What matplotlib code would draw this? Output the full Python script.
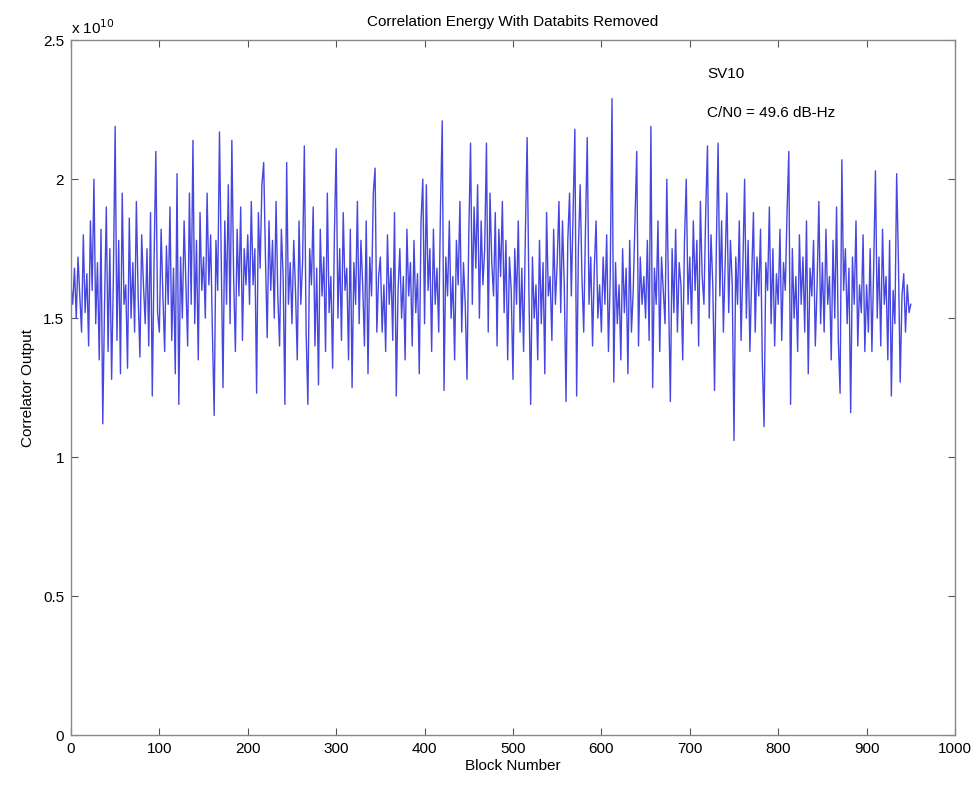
import matplotlib
matplotlib.use('Agg')
import matplotlib.pyplot as plt
import numpy as np

plt.rcParams['font.family'] = ['Liberation Sans', 'DejaVu Sans']

# correlator output in units of 1e10, one value every 2 blocks
energy = [
    1.62, 1.55, 1.68, 1.50, 1.72, 1.58, 1.45, 1.80, 1.52, 1.66, 1.40, 1.85, 1.60, 2.00, 1.48, 1.70, 1.35, 1.82, 1.12, 1.55, 1.90, 1.38, 1.75, 1.28, 1.65,
    2.19, 1.42, 1.78, 1.30, 1.95, 1.55, 1.62, 1.32, 1.86, 1.50, 1.70, 1.45, 1.92, 1.58, 1.36, 1.80, 1.62, 1.48, 1.75, 1.40, 1.88, 1.22, 1.70, 2.10, 1.52,
    1.45, 1.82, 1.58, 1.38, 1.76, 1.55, 1.90, 1.42, 1.68, 1.30, 2.02, 1.19, 1.72, 1.50, 1.85, 1.62, 1.40, 1.95, 1.55, 2.14, 1.48, 1.78, 1.35, 1.88, 1.60,
    1.72, 1.50, 1.95, 1.62, 1.80, 1.45, 1.15, 1.78, 1.60, 2.17, 1.70, 1.25, 1.85, 1.55, 1.98, 1.48, 2.14, 1.65, 1.38, 1.82, 1.58, 1.90, 1.42, 1.75, 1.62,
    1.80, 1.55, 1.92, 1.62, 1.75, 1.23, 1.88, 1.68, 1.98, 2.06, 1.72, 1.43, 1.85, 1.60, 1.78, 1.50, 1.92, 1.58, 1.40, 1.82, 1.65, 1.19, 2.06, 1.55, 1.70,
    1.48, 1.78, 1.60, 1.35, 1.85, 1.55, 1.70, 2.12, 1.45, 1.19, 1.75, 1.62, 1.90, 1.40, 1.68, 1.26, 1.82, 1.58, 1.72, 1.38, 1.95, 1.52, 1.65, 1.32, 1.80,
    2.11, 1.50, 1.75, 1.42, 1.88, 1.60, 1.68, 1.35, 1.82, 1.25, 1.70, 1.55, 1.92, 1.48, 1.78, 1.62, 1.40, 1.85, 1.30, 1.72, 1.58, 1.95, 2.04, 1.45, 1.65,
    1.72, 1.45, 1.62, 1.38, 1.80, 1.55, 1.68, 1.42, 1.88, 1.22, 1.60, 1.75, 1.50, 1.65, 1.35, 1.82, 1.58, 1.70, 1.40, 1.78, 1.52, 1.66, 1.30, 1.85, 2.00,
    1.48, 1.98, 1.60, 1.75, 1.38, 1.82, 1.55, 1.68, 1.45, 1.90, 2.21, 1.24, 1.72, 1.58, 1.85, 1.50, 1.65, 1.35, 1.78, 1.62, 1.92, 1.45, 1.70, 1.55, 1.28,
    1.80, 2.13, 1.55, 1.90, 1.68, 1.98, 1.50, 1.85, 1.62, 1.75, 2.13, 1.45, 1.95, 1.70, 1.58, 1.88, 1.40, 1.82, 1.65, 1.92, 1.52, 1.78, 1.35, 1.72, 1.60,
    1.28, 1.75, 1.55, 1.85, 1.45, 1.68, 1.38, 1.80, 2.15, 1.60, 1.19, 1.72, 1.50, 1.62, 1.35, 1.78, 1.48, 1.70, 1.30, 1.88, 1.58, 1.65, 1.42, 1.82, 1.55,
    1.70, 1.92, 1.52, 1.85, 1.62, 1.20, 1.78, 1.95, 1.58, 1.88, 2.18, 1.22, 1.75, 1.98, 1.65, 1.45, 1.82, 2.15, 1.55, 1.72, 1.40, 1.68, 1.85, 1.50, 1.62,
    1.45, 1.72, 1.55, 1.80, 1.38, 1.65, 2.29, 1.27, 1.70, 1.48, 1.62, 1.35, 1.75, 1.52, 1.68, 1.30, 1.78, 1.45, 1.60, 1.85, 2.10, 1.40, 1.72, 1.55, 1.65,
    1.50, 1.78, 1.42, 2.19, 1.25, 1.68, 1.55, 1.85, 1.38, 1.72, 1.60, 1.48, 2.00, 1.58, 1.20, 1.75, 1.52, 1.82, 1.45, 1.70, 1.62, 1.35, 1.78, 2.00, 1.55,
    1.72, 1.48, 1.85, 1.60, 1.78, 1.40, 1.92, 1.65, 1.55, 1.88, 2.12, 1.50, 1.80, 1.62, 1.24, 1.75, 2.13, 1.58, 1.85, 1.45, 1.70, 1.95, 1.52, 1.78, 1.62,
    1.06, 1.72, 1.55, 1.85, 1.42, 1.68, 2.00, 1.50, 1.78, 1.38, 1.65, 1.88, 1.45, 1.72, 1.58, 1.82, 1.35, 1.11, 1.70, 1.60, 1.90, 1.48, 1.75, 1.40, 1.66,
    1.55, 1.82, 1.42, 1.70, 1.60, 1.88, 2.10, 1.19, 1.75, 1.50, 1.65, 1.38, 1.80, 1.55, 1.72, 1.45, 1.85, 1.30, 1.68, 1.58, 1.78, 1.40, 1.62, 1.92, 1.48,
    1.70, 1.45, 1.82, 1.55, 1.65, 1.35, 1.78, 1.50, 1.90, 1.42, 1.23, 2.07, 1.60, 1.75, 1.48, 1.68, 1.16, 1.72, 1.55, 1.85, 1.40, 1.62, 1.52, 1.80, 1.38,
    1.62, 1.45, 1.75, 1.38, 1.68, 2.03, 1.50, 1.72, 1.40, 1.82, 1.55, 1.65, 1.35, 1.78, 1.22, 1.60, 1.48, 2.02, 1.70, 1.27, 1.58, 1.66, 1.45, 1.62, 1.52,
    1.55,
]
blocks = np.arange(len(energy)) * 2

title = 'Correlation Energy With Databits Removed'
sv_label = 'SV10'
cn0_label = 'C/N0 = 49.6 dB-Hz'

fig = plt.figure(figsize=(9.8, 7.9), dpi=100)
ax = fig.add_axes([0.0724, 0.0696, 0.9021, 0.8794])

ax.plot(blocks, energy, color='#4646e0', lw=1.0)

ax.set_xlim(0, 1000)
ax.set_ylim(0, 2.5)
ax.set_xticks(range(0, 1001, 100))
ax.set_yticks([0, 0.5, 1, 1.5, 2, 2.5])
ax.set_yticklabels(['0', '0.5', '1', '1.5', '2', '2.5'])
ax.tick_params(direction='in', top=True, right=True, length=5, width=0.8,
               labelsize=11, color='#555555', pad=5)
for s in ax.spines.values():
    s.set_color('#888888')
    s.set_linewidth(1.0)

ax.set_title(title, fontsize=11, pad=10)
ax.set_xlabel('Block Number', fontsize=11, labelpad=2)
ax.set_ylabel('Correlator Output', fontsize=11, labelpad=6)

ax.text(0.0, 1.005, 'x 10$^{10}$', transform=ax.transAxes, fontsize=11,
        ha='left', va='bottom')
ax.text(720, 2.38, sv_label, fontsize=11, ha='left', va='center')
ax.text(720, 2.24, cn0_label, fontsize=11, ha='left', va='center')

plt.savefig('out.png', dpi=100)
